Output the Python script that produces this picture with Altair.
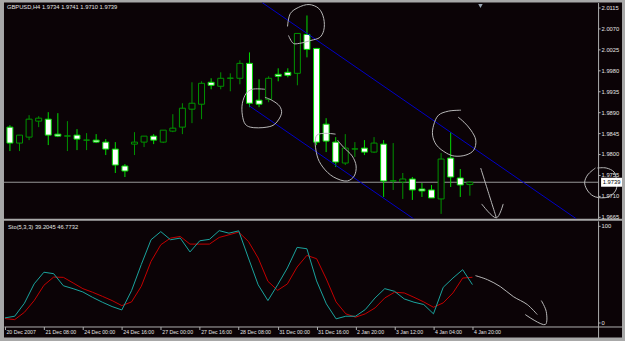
import json
import altair as alt
import pandas as pd

# ---------------- data ----------------
symbol_title = "GBPUSD,H4  1.9734 1.9741 1.9710 1.9739"
osc_title = "Sto(5,3,3) 39.2045 46.7732"

opens = [1.98578, 1.98234, 1.98363, 1.98707, 1.98750, 1.98427, 1.98384, 1.98406, 1.98298, 1.98298,
         1.98255, 1.98105, 1.97740, 1.98212, 1.98255, 1.98384, 1.98255, 1.98492, 1.98578, 1.98965,
         1.99072, 1.99545, 1.99459, 1.99631, 1.99631, 1.99953, 1.99158, 1.99179, 1.99717, 1.99760,
         1.99738, 2.00576, 2.00275, 1.98642, 1.98255, 1.97804, 1.98105, 1.98126, 1.98040, 1.98212,
         1.97417, 1.97396, 1.97460, 1.97245, 1.97224, 1.97030, 1.97911, 1.97482, 1.97340]
highs = [1.98621, 1.98406, 1.98836, 1.98814, 1.98900, 1.98879, 1.98707, 1.98535, 1.98449, 1.98427,
         1.98320, 1.98255, 1.97783, 1.98470, 1.98384, 1.98427, 1.98513, 1.98857, 1.99093, 1.99545,
         1.99566, 1.99631, 1.99760, 1.99738, 2.00018, 2.00189, 1.99609, 1.99674, 1.99846, 1.99846,
         2.00598, 2.00985, 2.00275, 1.98771, 1.98363, 1.98427, 1.98255, 1.98298, 1.98363, 1.98298,
         1.98234, 1.97589, 1.97503, 1.97374, 1.97331, 1.98019, 1.98470, 1.97675, 1.97410]
lows = [1.98062, 1.98062, 1.98298, 1.98578, 1.98191, 1.98363, 1.98062, 1.98083, 1.98083, 1.98234,
        1.97976, 1.97589, 1.97503, 1.97976, 1.98148, 1.98212, 1.98234, 1.98470, 1.98427, 1.98664,
        1.98750, 1.99394, 1.99394, 1.99351, 1.99502, 1.99008, 1.99008, 1.99115, 1.99566, 1.99652,
        1.99480, 2.00082, 1.98191, 1.98040, 1.97718, 1.97761, 1.97933, 1.97976, 1.98019, 1.97073,
        1.97224, 1.97030, 1.97009, 1.97073, 1.97052, 1.96708, 1.97288, 1.97073, 1.97100]
closes = [1.98234, 1.98406, 1.98750, 1.98771, 1.98406, 1.98384, 1.98390, 1.98320, 1.98298, 1.98255,
          1.98105, 1.97761, 1.97632, 1.98255, 1.98384, 1.98298, 1.98513, 1.98556, 1.98986, 1.99093,
          1.99523, 1.99480, 1.99631, 1.99635, 1.99953, 1.99093, 1.99072, 1.99631, 1.99674, 1.99695,
          2.00598, 2.00254, 1.98255, 1.98277, 1.97826, 1.98126, 1.98110, 1.98040, 1.98234, 1.97417,
          1.97420, 1.97460, 1.97224, 1.97202, 1.97052, 1.97890, 1.97503, 1.97331, 1.97390]

stoch_main = [4.8, 6.5, 20, 40, 52, 50.5, 38, 35, 31.6, 26,
              21, 16.5, 13, 33, 60, 85.6, 94, 85.6, 87.3, 73,
              84.5, 86, 95, 92.4, 94.8, 66.7, 39, 22.7, 39, 56.4,
              77.7, 76.3, 43, 19.3, 3.8, 6.5, 6.5, 13.4, 25.4, 35,
              32.3, 24.4, 21, 18.6, 9, 36.4, 46, 54.6, 39.2045]
stoch_signal = [4.1, 3, 10.6, 22.7, 38.5, 47, 46.7, 40.9, 35, 31.3,
                27.1, 22.7, 17.5, 21.3, 37.5, 63.2, 80.4, 87.3, 89, 81.1,
                81.1, 81.1, 88, 90.7, 93.5, 83.8, 66.7, 42.6, 33.3, 39.9,
                57.4, 69.4, 66, 45, 21.3, 9, 5.5, 9, 15.1, 25.4,
                31.3, 30.6, 26.1, 21.3, 15.8, 20.3, 30.6, 46, 46.7732]

current_price = 1.9739
price_ticks = [2.0115, 2.0070, 2.0025, 1.9980, 1.9935, 1.9890, 1.9845, 1.9800, 1.9755, 1.9710, 1.9665]
osc_ticks = [0, 100]
time_labels = ["20 Dec 2007", "21 Dec 08:00", "24 Dec 00:00", "24 Dec 16:00", "27 Dec 00:00",
               "27 Dec 16:00", "28 Dec 08:00", "31 Dec 00:00", "31 Dec 16:00", "2 Jan 20:00",
               "3 Jan 12:00", "4 Jan 04:00", "4 Jan 20:00"]
time_label_bars = [0, 4, 8, 12, 16, 20, 24, 28, 32, 36, 40, 44, 48]

# channel lines (bar index, price)
channel_upper = [(26.32, 2.01264), (59.12, 1.96601)]
channel_lower = [(24.97, 1.99038), (42.14, 1.96601)]

# hand-drawn annotations (bar index, price)
scribble_top = [(28.97, 2.00748), (29.27, 2.01028), (30.09, 2.01157), (31.22, 2.01221), (32.24, 2.01135),
                (32.75, 2.00920), (32.75, 2.00662), (32.34, 2.00512), (31.42, 2.00447), (30.19, 2.00383),
                (29.58, 2.00383), (29.07, 2.00555)]
scribble_dip = [(26.61, 1.99394), (25.28, 1.99394), (24.67, 1.99308), (24.26, 1.99093), (24.26, 1.98836),
                (24.56, 1.98642), (25.08, 1.98578), (26.82, 1.98578), (27.64, 1.98642), (28.35, 1.98879),
                (28.15, 1.99029), (27.33, 1.99158), (26.61, 1.99222)]
scribble_mid = [(33.98, 1.98427), (32.04, 1.98406), (32.04, 1.97976), (32.65, 1.97718), (33.78, 1.97503),
                (35.21, 1.97417), (35.93, 1.97525), (36.13, 1.97740), (35.72, 1.97955), (34.80, 1.98148),
                (34.19, 1.98298)]
scribble_right = [(47.08, 1.98943), (45.75, 1.98922), (44.73, 1.98836), (44.22, 1.98621), (44.11, 1.98406),
                  (44.52, 1.98191), (45.55, 1.98019), (46.37, 1.97955), (47.59, 1.97976), (48.41, 1.98083),
                  (48.62, 1.98298), (48.11, 1.98513), (47.39, 1.98685), (46.78, 1.98793)]
scribble_arrow = [(49.13, 1.97697), (49.85, 1.97224), (50.77, 1.96622)]
scribble_arrowhead = [(49.23, 1.96923), (50.77, 1.96622), (51.48, 1.96923)]
scribble_tag = [(61.11, 1.97697), (60.29, 1.97547), (59.98, 1.97374), (60.39, 1.97180), (61.11, 1.97073),
                (62.44, 1.97073), (63.25, 1.97224), (63.30, 1.97439), (63.05, 1.97611), (62.23, 1.97697),
                (61.31, 1.97697)]
scribble_osc = [(48.31, 48.5), (49.54, 44.3), (50.87, 37.1), (52.20, 26.8), (53.63, 18.6), (54.66, 8.2)]
scribble_osc_head = [(53.43, 8.2), (55.48, -2.1), (55.58, 11.3), (55.07, 22.7)]

# ---------------- styling ----------------
BG = "#0b0306"
FRAME = "#a8a8a8"
BULL = "#009400"
BEAR = "#00dc00"
BLUE = "#0000c8"
TEAL = "#1aa49e"
RED = "#c40000"
SCRIBBLE = "#b8b8b8"
AXIS_GRAY = "#b0b0b0"
TEXT = "#e4e4e4"
FONT = "Liberation Sans"

W = 620
H_TOP = 217
H_BOT = 117
X_DOMAIN = [-0.10, 63.36]
P_DOMAIN = [1.96601, 2.01264]
S_DOMAIN = [-15.46, 105.15]

x_scale = alt.Scale(domain=X_DOMAIN, nice=False, zero=False)
p_scale = alt.Scale(domain=P_DOMAIN, nice=False, zero=False)
s_scale = alt.Scale(domain=S_DOMAIN, nice=False, zero=False)

candles = pd.DataFrame({"i": list(range(len(opens))), "open": opens, "high": highs,
                        "low": lows, "close": closes})
candles["dir"] = ["bull" if c >= o else "bear" for o, c in zip(opens, closes)]


def strokes_frame(named):
    rows = []
    for name, pts in named.items():
        for k, (i, v) in enumerate(pts):
            rows.append({"s": name, "k": k, "i": i, "v": v})
    return pd.DataFrame(rows)


channel_df = strokes_frame({"upper": channel_upper, "lower": channel_lower})
scribble_df = strokes_frame({"top": scribble_top, "dip": scribble_dip, "mid": scribble_mid,
                             "right": scribble_right, "arrow": scribble_arrow,
                             "head": scribble_arrowhead, "tag": scribble_tag})
osc_scribble_df = strokes_frame({"curve": scribble_osc, "head": scribble_osc_head})
osc_df = pd.DataFrame({"i": list(range(len(stoch_main))), "k": stoch_main, "d": stoch_signal})

dir_stroke = alt.Scale(domain=["bull", "bear"], range=[BULL, BEAR])
dir_fill = alt.Scale(domain=["bull", "bear"], range=[BG, "#ffffff"])

price_axis = alt.Axis(orient="right", offset=-24, values=price_ticks, format=".4f", tickSize=2,
                      labelPadding=1, domainColor=AXIS_GRAY, tickColor=AXIS_GRAY, labelColor=TEXT,
                      labelFont=FONT, labelFontSize=5.8, title=None, grid=False, labelOverlap=False,
                      labelFlush=False)
label_expr = f"{json.dumps(time_labels)}[indexof({json.dumps(time_label_bars)}, datum.value)]"
time_axis = alt.Axis(orient="bottom", offset=-11, values=time_label_bars, labelExpr=label_expr,
                     labelAlign="left", labelBaseline="top", labelPadding=0, labelOffset=1,
                     tickSize=3, labelFont=FONT, labelFontSize=5.2, labelColor=TEXT,
                     domainColor=AXIS_GRAY, tickColor=AXIS_GRAY, title=None, grid=False,
                     labelOverlap=False, labelFlush=False)
osc_axis = alt.Axis(orient="right", offset=-24, values=osc_ticks, format="d", tickSize=2,
                    labelPadding=1, domainColor=AXIS_GRAY, tickColor=AXIS_GRAY, labelColor=TEXT,
                    labelFont=FONT, labelFontSize=5.8, title=None, grid=False, labelFlush=False)

# top panel: x without axis, y = price axis on every layer
XT = alt.X("i:Q", scale=x_scale, axis=None)


def PY(field):
    return alt.Y(field, scale=p_scale, axis=price_axis)


bid_line = alt.Chart(pd.DataFrame({"i": [X_DOMAIN[0]], "p": [current_price]})).mark_rule(
    color="#9a9a9a", strokeWidth=1).encode(
    x=alt.value(0), x2=alt.value(596), y=PY("p:Q"))

wicks = alt.Chart(candles).mark_rule(strokeWidth=1).encode(
    x=XT, y=PY("low:Q"), y2="high:Q",
    stroke=alt.Stroke("dir:N", scale=dir_stroke, legend=None))

bodies = alt.Chart(candles).mark_bar(size=6, strokeWidth=1).encode(
    x=XT, y=PY("open:Q"), y2="close:Q",
    fill=alt.Fill("dir:N", scale=dir_fill, legend=None),
    stroke=alt.Stroke("dir:N", scale=dir_stroke, legend=None))

channels = alt.Chart(channel_df).mark_line(color=BLUE, strokeWidth=1, clip=True).encode(
    x=XT, y=PY("v:Q"), detail="s:N", order="k:Q")

scribbles = alt.Chart(scribble_df).mark_line(color=SCRIBBLE, strokeWidth=1, clip=True,
                                             interpolate="catmull-rom").encode(
    x=XT, y=PY("v:Q"), detail="s:N", order="k:Q")

price_tag = alt.Chart(pd.DataFrame({"p": [current_price]})).mark_tick(
    orient="horizontal", thickness=9, size=21, color="#ffffff", opacity=1).encode(
    x=alt.value(609.5), y=PY("p:Q"))

price_tag_text = alt.Chart(pd.DataFrame({"p": [current_price], "t": [f"{current_price:.4f}"]})).mark_text(
    color="#000000", font=FONT, fontSize=5.8, align="center", baseline="middle").encode(
    x=alt.value(609.5), y=PY("p:Q"), text="t:N")

shift_marker = alt.Chart(pd.DataFrame({"t": [0]})).mark_point(
    shape="triangle-down", filled=True, size=20, color="#9aa6b4", opacity=1).encode(
    x=alt.value(478), y=alt.value(3.5))

top_title = alt.Chart(pd.DataFrame({"t": [symbol_title]})).mark_text(
    color=TEXT, font=FONT, fontSize=5.8, align="left", baseline="top").encode(
    x=alt.value(3), y=alt.value(1.5), text="t:N")

top = alt.layer(bid_line, wicks, bodies, channels, scribbles, price_tag, price_tag_text,
                shift_marker, top_title).properties(width=W, height=H_TOP)

# bottom panel: same axes on every layer
XB = alt.X("i:Q", scale=x_scale, axis=time_axis)


def SY(field):
    return alt.Y(field, scale=s_scale, axis=osc_axis)


k_line = alt.Chart(osc_df).mark_line(color=TEAL, strokeWidth=1).encode(x=XB, y=SY("k:Q"))
d_line = alt.Chart(osc_df).mark_line(color=RED, strokeWidth=1).encode(x=XB, y=SY("d:Q"))
osc_scribbles = alt.Chart(osc_scribble_df).mark_line(color=SCRIBBLE, strokeWidth=1, clip=True,
                                                     interpolate="catmull-rom").encode(
    x=XB, y=SY("v:Q"), detail="s:N", order="k:Q")
osc_text = alt.Chart(pd.DataFrame({"t": [osc_title]})).mark_text(
    color=TEXT, font=FONT, fontSize=5.8, align="left", baseline="top").encode(
    x=alt.value(4), y=alt.value(3.5), text="t:N")

bottom = alt.layer(d_line, k_line, osc_scribbles, osc_text).properties(width=W, height=H_BOT)

chart = alt.vconcat(top, bottom, spacing=2, bounds="flush").properties(
    background=FRAME,
    padding={"left": 2, "top": 2, "right": 3, "bottom": 3},
).configure_view(fill=BG, stroke=None).configure_axis(grid=False)

chart.save("out.html", embed_options={"renderer": "svg", "actions": False})
